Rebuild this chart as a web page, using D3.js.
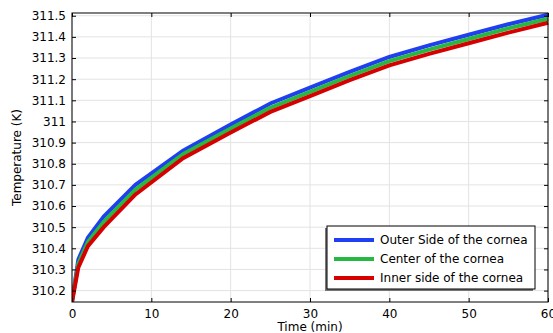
<!DOCTYPE html>
<html>
<head>
  <script src="https://d3js.org/d3.v7.min.js"></script>
  <style>
    body { margin: 0; background: #fff; }
    text { font-family: "DejaVu Sans", sans-serif; }
  </style>
</head>
<body>
<script>
  // values
  var times = [0, 0.8, 2, 4, 8, 14, 20, 25, 30, 35, 40, 45, 50, 55, 60];
  var outerSide = [310.15, 310.347, 310.45, 310.55, 310.70, 310.862, 310.985, 311.085, 311.16, 311.235, 311.305, 311.36, 311.41, 311.46, 311.505];
  var centerSide = [310.148, 310.328, 310.43, 310.525, 310.678, 310.845, 310.967, 311.065, 311.14, 311.215, 311.285, 311.34, 311.39, 311.44, 311.486];
  var innerSide = [310.146, 310.31, 310.41, 310.50, 310.655, 310.826, 310.948, 311.045, 311.12, 311.195, 311.265, 311.32, 311.37, 311.42, 311.467];
  var seriesNames = ["Outer Side of the cornea", "Center of the cornea", "Inner side of the cornea"];
  var seriesColors = ["#1f3ff0", "#26b840", "#d60000"];
  var xTicks = [0, 10, 20, 30, 40, 50, 60];
  var yTicks = [310.2, 310.3, 310.4, 310.5, 310.6, 310.7, 310.8, 310.9, 311, 311.1, 311.2, 311.3, 311.4, 311.5];
  var yTickLabels = ["310.2", "310.3", "310.4", "310.5", "310.6", "310.7", "310.8", "310.9", "311", "311.1", "311.2", "311.3", "311.4", "311.5"];

  var w = 553, h = 333;
  var pLeft = 72, pRight = 548, pTop = 13, pBottom = 302; // plot frame

  var svg = d3.select("body").append("svg")
    .attr("width", w)
    .attr("height", h);

  var x = d3.scaleLinear().domain([0, 60]).range([pLeft, pRight]);
  var y = d3.scaleLinear().domain([310.146, 311.513]).range([pBottom, pTop]);

  // grid
  svg.append("g").selectAll("line").data(xTicks).enter().append("line")
    .attr("x1", d => x(d)).attr("x2", d => x(d))
    .attr("y1", pTop).attr("y2", pBottom)
    .attr("stroke", "#e3e3e3").attr("stroke-width", 1);
  svg.append("g").selectAll("line").data(yTicks).enter().append("line")
    .attr("x1", pLeft).attr("x2", pRight)
    .attr("y1", d => y(d)).attr("y2", d => y(d))
    .attr("stroke", "#e3e3e3").attr("stroke-width", 1);

  // curves
  var allSeries = [outerSide, centerSide, innerSide];
  var line = d3.line()
    .x((d, i) => x(times[i]))
    .y(d => y(d));

  var plot = svg.append("g");
  plot.append("clipPath").attr("id", "clip").append("rect")
    .attr("x", pLeft).attr("y", pTop - 3).attr("width", pRight - pLeft + 2).attr("height", pBottom - pTop + 3);
  plot.selectAll("path").data(allSeries).enter().append("path")
    .attr("d", line)
    .attr("fill", "none")
    .attr("stroke", (d, i) => seriesColors[i])
    .attr("stroke-width", 4)
    .attr("clip-path", "url(#clip)");

  // axes (ticks inside, mirrored on top/right)
  var xAxis = d3.axisBottom(x).tickValues(xTicks).tickSize(-4).tickPadding(7);
  svg.append("g").attr("transform", "translate(0," + pBottom + ")").call(xAxis);
  var yAxis = d3.axisLeft(y).tickValues(yTicks).tickSize(-4).tickPadding(6)
    .tickFormat((d, i) => yTickLabels[i]);
  svg.append("g").attr("transform", "translate(" + pLeft + ",0)").call(yAxis);
  svg.append("g").attr("transform", "translate(0," + pTop + ")")
    .call(d3.axisTop(x).tickValues(xTicks).tickSize(-4).tickFormat(""));
  svg.append("g").attr("transform", "translate(" + pRight + ",0)")
    .call(d3.axisRight(y).tickValues(yTicks).tickSize(-4).tickFormat(""));

  svg.selectAll(".domain").remove();
  svg.selectAll(".tick line").attr("stroke", "#000");
  svg.selectAll(".tick text").attr("font-size", 12).attr("fill", "#000")
    .style("font-family", "DejaVu Sans, sans-serif");

  svg.append("rect")
    .attr("x", pLeft).attr("y", pTop)
    .attr("width", pRight - pLeft).attr("height", pBottom - pTop)
    .attr("fill", "none").attr("stroke", "#000").attr("stroke-width", 1);

  // axis titles
  svg.append("text")
    .attr("x", (pLeft + pRight) / 2).attr("y", 331)
    .attr("text-anchor", "middle").attr("font-size", 12)
    .text("Time (min)");
  svg.append("text")
    .attr("transform", "translate(21," + ((pTop + pBottom) / 2) + ") rotate(-90)")
    .attr("text-anchor", "middle").attr("font-size", 12)
    .text("Temperature (K)");

  // legend
  var lx = 327, ly = 226, lw = 208, lh = 63;
  svg.append("rect")
    .attr("x", lx - 2).attr("y", ly + 2).attr("width", lw).attr("height", lh)
    .attr("fill", "#777");
  svg.append("rect")
    .attr("x", lx).attr("y", ly).attr("width", lw).attr("height", lh)
    .attr("fill", "#fff").attr("stroke", "#000").attr("stroke-width", 1);
  var leg = svg.append("g").selectAll("g").data(seriesNames).enter().append("g")
    .attr("transform", (d, i) => "translate(" + lx + "," + (ly + 14 + i * 19) + ")");
  leg.append("line")
    .attr("x1", 7).attr("x2", 47).attr("y1", 0).attr("y2", 0)
    .attr("stroke", (d, i) => seriesColors[i]).attr("stroke-width", 4);
  leg.append("text")
    .attr("x", 53).attr("y", 4)
    .attr("font-size", 12)
    .text(d => d);
</script>
</body>
</html>
